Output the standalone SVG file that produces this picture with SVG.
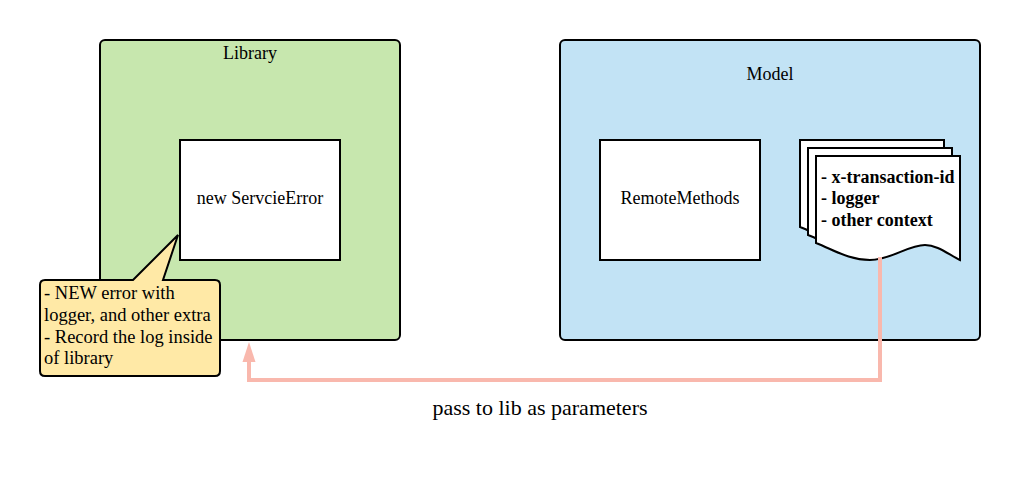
<svg xmlns="http://www.w3.org/2000/svg" width="1020" height="480" viewBox="0 0 1020 480">
<defs>
<style>
.t{font-family:"Liberation Serif","Times New Roman",serif;font-size:18px;fill:#000}
.c{text-anchor:middle}
.b{font-weight:bold}
.n{font-size:18.5px}
.box{fill:#fff;stroke:#000;stroke-width:2}
.doc{fill:#fff;stroke:#000;stroke-width:2;stroke-linejoin:miter}
.conn{fill:none;stroke:#f9b8ad;stroke-width:4}
</style>
<path id="docshape" d="M0,0 H144 V104 C132,98 121,89 109,89 C92,89 75,104 54,104 C33,104 18,94 0,87 Z"/>
</defs>
<g id="library">
<rect x="100" y="40" width="300" height="300" rx="5" fill="#c7e7ae" stroke="#000" stroke-width="2"/>
<text class="t c" x="250" y="59">Library</text>
</g>
<g id="model">
<rect x="560" y="40" width="420" height="300" rx="5" fill="#c2e3f5" stroke="#000" stroke-width="2"/>
<text class="t c" x="770" y="80">Model</text>
</g>
<g id="new-service-error">
<rect class="box" x="180" y="140" width="160" height="120"/>
<text class="t c" x="260" y="204">new ServcieError</text>
</g>
<g id="remote-methods">
<rect class="box" x="600" y="140" width="160" height="120"/>
<text class="t c" x="680" y="204">RemoteMethods</text>
</g>
<g id="context-docs">
<use href="#docshape" class="doc" x="800" y="140"/>
<use href="#docshape" class="doc" x="808" y="148"/>
<use href="#docshape" class="doc" x="816" y="156"/>
<text class="t b" x="821" y="183">- x-transaction-id</text>
<text class="t b" x="821" y="204">- logger</text>
<text class="t b" x="821" y="226">- other context</text>
</g>
<g id="callout">
<path d="M45,280 H133 L178,235 L163,280 H215 Q220,280 220,285 V371 Q220,376 215,376 H45 Q40,376 40,371 V285 Q40,280 45,280 Z" fill="#ffe9a6" stroke="#000" stroke-width="2" stroke-linejoin="miter"/>
<text class="t n" x="44" y="299">- NEW error with</text>
<text class="t n" x="44" y="321">logger, and other extra</text>
<text class="t n" x="44" y="343">- Record the log inside</text>
<text class="t n" x="44" y="364">of library</text>
</g>
<g id="connectors">
<path class="conn" d="M880,257 V380 H249 V360"/>
<polygon points="249,342 255.5,362 242.5,362" fill="#f9b8ad"/>
<text class="t c" x="540" y="415" style="font-size:22px">pass to lib as parameters</text>
</g>
</svg>
